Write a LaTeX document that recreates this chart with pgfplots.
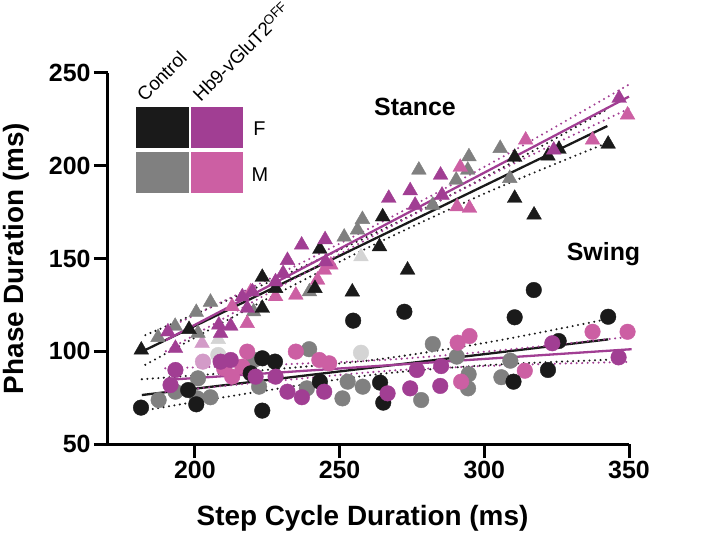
\documentclass[border=0pt]{standalone}
\usepackage{fontspec}
\setmainfont{Liberation Sans}
\usepackage{pgfplots}
\pgfplotsset{compat=1.18}
\definecolor{cBlack}{HTML}{1A1A1A}
\definecolor{cMag}{HTML}{A13E93}
\definecolor{cGrey}{HTML}{808080}
\definecolor{cPink}{HTML}{CC5FA3}
\definecolor{cLGrey}{HTML}{D4D4D4}
\definecolor{cLPink}{HTML}{D39BC8}
\begin{document}
\begin{tikzpicture}
\begin{axis}[
  scale only axis, width=521bp, height=371bp,
  xmin=170, xmax=350, ymin=50, ymax=250,
  axis x line*=bottom, axis y line*=left,
  axis line style={-, line width=3bp, black},
  xtick={200,250,300,350}, ytick={50,100,150,200,250},
  tick align=outside, major tick length=14bp,
  tick style={line width=3bp, black},
  clip=false,
  /pgf/number format/assume math mode=true,
  ticklabel style={font=\bfseries\fontsize{25}{25}\selectfont},
  xlabel={Step Cycle Duration (ms)}, ylabel={Phase Duration (ms)},
  every axis x label/.style={at={(axis description cs:0.4885,-0.1995)}, anchor=center, font=\bfseries\fontsize{28}{28}\selectfont},
  every axis y label/.style={at={(axis description cs:-0.1766,0.5)}, rotate=90, anchor=center, font=\bfseries\fontsize{28}{28}\selectfont},
  tri/.style={only marks, mark=triangle*, mark size=8.5bp},
  cir/.style={only marks, mark=*, mark size=7.8bp},
  reg/.style={no marks, line width=2.3bp},
  band/.style={no marks, smooth, line width=2.3bp, line cap=round, dash pattern=on 0bp off 5.5bp},
]
% ---------- Stance ----------
\addplot[tri, color=cLGrey] coordinates {(257.4,151.0) (208.1,106.4)};
\addplot[tri, color=cLPink] coordinates {(202.5,104.3)};
\addplot[tri, color=cGrey] coordinates {
(187.3,107.5) (193.2,113.5) (201.1,109.7) (200.5,121.0) (205.4,126.5)
(220.3,121.3) (239.6,132.1) (251.6,161.6) (256.2,165.4) (257.9,171.1)
(277.4,197.7) (282.2,178.8) (290.3,192.3) (294.3,197.7) (294.7,204.9)
(305.5,209.4) (308.8,193.2)};
\addplot[tri, color=cPink] coordinates {
(218.1,115.0) (212.9,124.1) (219.3,132.1) (227.9,129.5) (234.9,130.3)
(242.4,138.4) (244.7,143.8) (247.0,146.5) (290.6,177.9) (294.9,177.1)
(291.7,199.2) (314.3,213.9) (337.4,213.9) (349.5,227.4)};
\addplot[tri, color=cBlack] coordinates {
(181.5,100.7) (198.0,111.8) (223.3,139.9) (227.9,133.9) (223.3,123.2)
(243.2,155.0) (241.5,133.9) (263.8,156.4) (264.9,172.5) (254.4,132.0)
(273.5,143.8) (310.5,204.6) (310.5,182.5) (317.2,173.5) (322.0,205.3)
(325.8,208.9) (342.8,211.7)};
\addplot[tri, color=cMag] coordinates {
(193.3,101.6) (190.7,110.5) (208.9,109.7) (212.4,113.6) (208.3,114.2)
(216.4,129.4) (218.1,123.2) (219.9,132.1) (227.9,137.5) (230.5,142.0)
(232.0,149.0) (236.9,157.3) (245.0,160.2) (245.2,148.3) (267.0,182.5)
(274.4,186.6) (276.1,178.8) (284.9,195.0) (285.4,184.2) (324.0,208.5)
(346.6,236.4)};
% ---------- Swing ----------
\addplot[cir, color=cLGrey] coordinates {(208.1,98.0) (257.4,99.2)};
\addplot[cir, color=cLPink] coordinates {(202.8,94.4)};
\addplot[cir, color=cGrey] coordinates {
(187.5,73.7) (193.3,78.2) (200.8,74.6) (201.1,85.4) (205.4,75.2)
(220.4,95.3) (222.2,80.9) (238.7,80.0) (239.5,101.1) (251.0,74.6)
(252.8,83.6) (258.0,80.9) (278.2,73.7) (282.2,103.9) (290.5,97.1)
(294.6,87.6) (294.4,80.0) (305.9,86.0) (309.0,94.9)};
\addplot[cir, color=cPink] coordinates {
(210.1,90.8) (212.9,86.3) (218.1,99.8) (216.4,91.7) (234.9,99.8)
(243.0,95.3) (246.4,93.5) (290.8,104.6) (294.9,108.2) (292.0,83.6)
(314.0,89.5) (337.4,110.5) (349.5,110.5)};
\addplot[cir, color=cBlack] coordinates {
(181.4,69.6) (197.7,79.1) (200.5,71.4) (219.3,88.1) (223.3,96.2)
(227.7,94.4) (223.3,68.0) (243.2,83.6) (254.7,116.5) (264.0,83.1)
(265.1,72.3) (272.4,121.3) (310.5,118.3) (317.1,133.0) (325.7,105.5)
(322.0,89.9) (310.1,83.6) (342.8,118.6)};
\addplot[cir, color=cMag] coordinates {
(193.3,89.9) (191.6,81.8) (212.4,95.3) (208.9,94.4) (221.0,86.3)
(227.9,86.3) (232.0,78.2) (237.0,75.2) (244.7,78.2) (266.6,77.3)
(274.4,80.0) (276.7,89.9) (285.1,92.0) (284.8,81.3) (323.5,104.3)
(346.4,96.7)};
% ---------- Regression lines & bands ----------
\addplot[reg, color=cBlack] coordinates {(182.9,100.7) (342.5,221.4)};
\addplot[band, color=cBlack] coordinates {(182.9,108.7) (222,134.8) (262,163.5) (302,195.3) (342.5,230.4)};
\addplot[band, color=cBlack] coordinates {(182.9,92.7) (222,125.8) (262,157.5) (302,186.3) (342.5,212.4)};
\addplot[reg, color=cMag] coordinates {(190,106.0) (350,237.3)};
\addplot[band, color=cMag] coordinates {(190,112.0) (230,142.3) (270,174.1) (310,208.0) (350,243.8)};
\addplot[band, color=cMag] coordinates {(190,100.0) (230,135.3) (270,169.1) (310,201.0) (350,230.8)};
\addplot[reg, color=cBlack] coordinates {(181.7,76.4) (342.8,106.4)};
\addplot[band, color=cBlack] coordinates {(181.7,84.9) (222,89.6) (262,95.4) (302,105.0) (342.8,117.4)};
\addplot[band, color=cBlack] coordinates {(181.7,67.9) (222,78.2) (262,87.4) (302,92.6) (342.8,95.4)};
\addplot[reg, color=cMag] coordinates {(189.8,84.5) (350.9,101.1)};
\addplot[band, color=cMag] coordinates {(189.8,90.8) (230,92.9) (270,95.8) (310,101.2) (350.9,107.9)};
\addplot[band, color=cMag] coordinates {(189.8,78.2) (230,84.3) (270,89.8) (310,92.6) (350.9,94.3)};
\end{axis}
% annotations (tikz units relative to axis lower-left corner)
\node[font=\bfseries\fontsize{25}{25}\selectfont] at (307bp,337bp) {Stance};
\node[font=\bfseries\fontsize{25}{25}\selectfont] at (495.5bp,190bp) {Swing};
% legend grid
\fill[cBlack] (28bp,296.3bp) rectangle (81bp,337.3bp);
\fill[cMag] (82.7bp,296.3bp) rectangle (135.3bp,337.3bp);
\fill[cGrey] (28bp,250.7bp) rectangle (81bp,291.7bp);
\fill[cPink] (82.7bp,250.7bp) rectangle (135.3bp,291.7bp);
\node[font=\fontsize{20}{20}\selectfont] at (151.5bp,315.7bp) {F};
\node[font=\fontsize{20}{20}\selectfont] at (152bp,269bp) {M};
\node[font=\fontsize{19}{19}\selectfont, rotate=45, anchor=south west, inner sep=0pt] at (37bp,341bp) {Control};
\node[font=\fontsize{19}{19}\selectfont, rotate=45, anchor=south west, inner sep=0pt] at (93bp,341bp) {Hb9-vGluT2\textsuperscript{OFF}};
\pgfresetboundingbox
\path[use as bounding box] (-108bp,-94bp) rectangle (602bp,444bp);
\end{tikzpicture}
\end{document}
